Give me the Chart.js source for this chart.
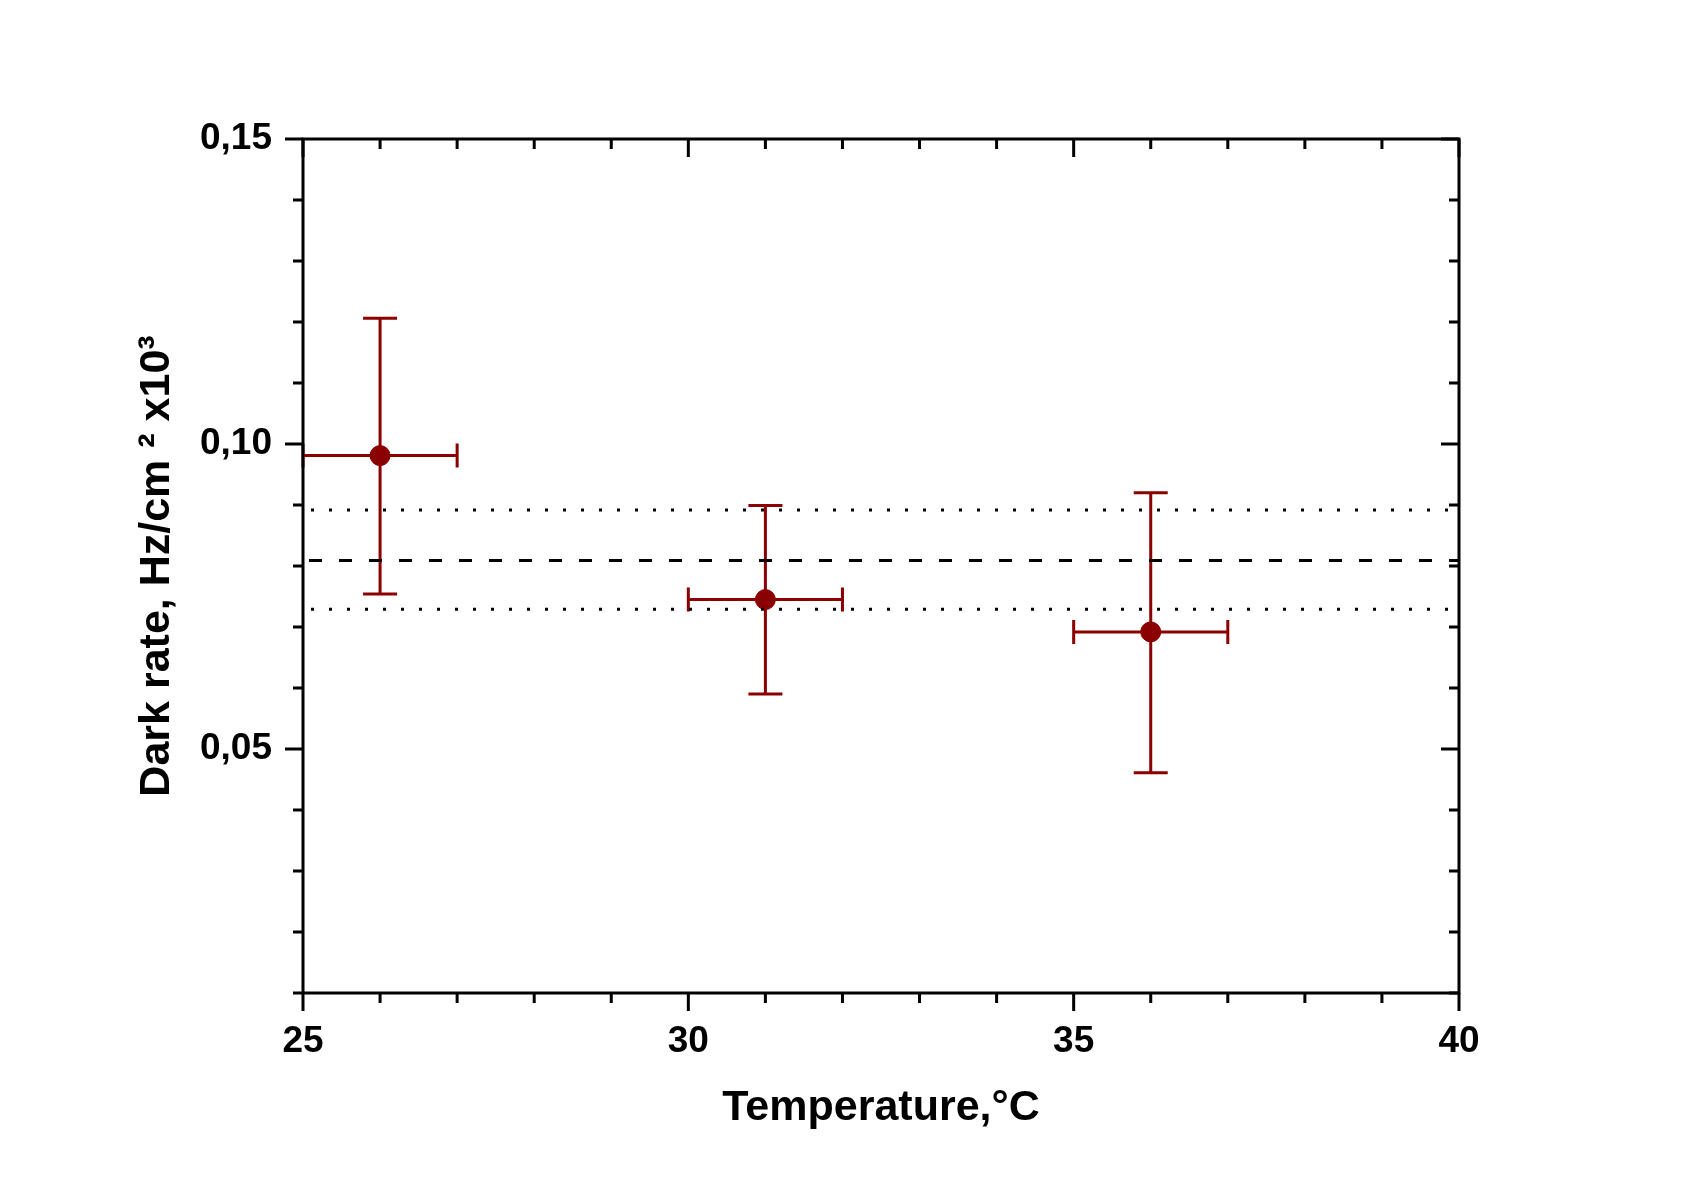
<!DOCTYPE html>
<html lang="en">
<head>
  <meta charset="UTF-8">
  <title>Dark rate vs Temperature</title>
  <script src="https://cdn.jsdelivr.net/npm/chart.js"></script>
  <style>
    body {
      margin: 0;
      background: #fff;
    }

    #chartContainer {
      width: 1696px;
      height: 1192px;
    }
  </style>
</head>
<body>

  <div id="chartContainer">
    <canvas id="darkChart" width="1696" height="1192"></canvas>
  </div>

  <script>
    // measured points
    const temps = [26, 31, 36];
    const darkRate = [0.0981, 0.0745, 0.0692];
    const tempErr = [1, 1, 1];
    const rateLow = [0.0754, 0.0590, 0.0461];
    const rateHigh = [0.1206, 0.0899, 0.0920];

    // mean level and its band
    const meanRate = 0.0809;
    const bandLow = 0.0729;
    const bandHigh = 0.0892;

    // axes
    const xTicks = [25, 30, 35, 40];
    const yTicks = [0.05, 0.10, 0.15];
    const yTickLabels = ['0,05', '0,10', '0,15'];

    const red = '#8b0000';
    const fontFamily = '"Liberation Sans", Arial, sans-serif';

    // error bars, drawn under the markers
    const errorBars = {
      id: 'errorBars',
      beforeDatasetsDraw(chart) {
        const ctx = chart.ctx;
        const xs = chart.scales.x, ys = chart.scales.y;
        ctx.save();
        ctx.strokeStyle = red;
        ctx.lineWidth = 3;
        temps.forEach((t, i) => {
          const cx = xs.getPixelForValue(t);
          const cy = ys.getPixelForValue(darkRate[i]);
          const x0 = xs.getPixelForValue(t - tempErr[i]);
          const x1 = xs.getPixelForValue(t + tempErr[i]);
          const y0 = ys.getPixelForValue(rateLow[i]);
          const y1 = ys.getPixelForValue(rateHigh[i]);
          ctx.beginPath();
          ctx.moveTo(cx, y0); ctx.lineTo(cx, y1);
          ctx.moveTo(cx - 17, y0); ctx.lineTo(cx + 17, y0);
          ctx.moveTo(cx - 17, y1); ctx.lineTo(cx + 17, y1);
          ctx.moveTo(x0, cy); ctx.lineTo(x1, cy);
          ctx.moveTo(x0, cy - 12); ctx.lineTo(x0, cy + 12);
          ctx.moveTo(x1, cy - 12); ctx.lineTo(x1, cy + 12);
          ctx.stroke();
        });
        ctx.restore();
      }
    };

    // box frame with major/minor ticks (out on left/bottom, in on top/right)
    const frameTicks = {
      id: 'frameTicks',
      afterDraw(chart) {
        const ctx = chart.ctx;
        const xs = chart.scales.x, ys = chart.scales.y;
        const {left, right, top, bottom} = chart.chartArea;
        ctx.save();
        ctx.strokeStyle = '#000';
        ctx.lineWidth = 3;
        ctx.beginPath();
        for (let v = 25; v <= 40; v += 1) {
          const px = xs.getPixelForValue(v);
          const len = v % 5 === 0 ? 18 : 10;
          ctx.moveTo(px, bottom); ctx.lineTo(px, bottom + len);
          ctx.moveTo(px, top); ctx.lineTo(px, top + len);
        }
        for (let k = 1; k <= 15; k++) {
          const py = ys.getPixelForValue(k / 100);
          const len = k % 5 === 0 ? 18 : 10;
          ctx.moveTo(left, py); ctx.lineTo(left - len, py);
          ctx.moveTo(right, py); ctx.lineTo(right - len, py);
        }
        ctx.stroke();
        ctx.lineJoin = 'miter';
        ctx.strokeRect(left, top, right - left, bottom - top);
        ctx.restore();
      }
    };

    const ctx1 = document.getElementById('darkChart').getContext('2d');
    new Chart(ctx1, {
      type: 'scatter',
      data: {
        datasets: [
          {
            type: 'line',
            data: [{x: 25, y: meanRate}, {x: 40, y: meanRate}],
            borderColor: '#000',
            borderWidth: 3,
            borderDash: [13, 17],
            borderDashOffset: -6,
            pointRadius: 0
          },
          {
            type: 'line',
            data: [{x: 25, y: bandHigh}, {x: 40, y: bandHigh}],
            borderColor: '#000',
            borderWidth: 3,
            borderDash: [3, 15],
            borderDashOffset: -8,
            pointRadius: 0
          },
          {
            type: 'line',
            data: [{x: 25, y: bandLow}, {x: 40, y: bandLow}],
            borderColor: '#000',
            borderWidth: 3,
            borderDash: [3, 15],
            borderDashOffset: -8,
            pointRadius: 0
          },
          {
            label: 'Dark rate',
            data: temps.map((t, i) => ({x: t, y: darkRate[i]})),
            backgroundColor: red,
            borderColor: red,
            borderWidth: 1,
            pointRadius: 10
          }
        ]
      },
      plugins: [errorBars, frameTicks],
      options: {
        responsive: false,
        animation: false,
        layout: {
          padding: {left: 0, right: 237, top: 139, bottom: 0}
        },
        scales: {
          x: {
            type: 'linear',
            min: 25,
            max: 40,
            afterFit(scale) { scale.height = 199; },
            afterBuildTicks(scale) { scale.ticks = xTicks.map(v => ({value: v})); },
            grid: {display: false, drawTicks: false},
            border: {display: false},
            ticks: {
              padding: 27,
              color: '#000',
              font: {family: fontFamily, size: 37, weight: 'bold'}
            },
            title: {
              display: true,
              text: 'Temperature,°C',
              color: '#000',
              padding: {top: 0, bottom: 58},
              font: {family: fontFamily, size: 43, weight: 'bold'}
            }
          },
          y: {
            type: 'linear',
            min: 0.01,
            max: 0.15,
            afterFit(scale) { scale.width = 303; },
            afterBuildTicks(scale) { scale.ticks = yTicks.map(v => ({value: v})); },
            grid: {display: false, drawTicks: false},
            border: {display: false},
            ticks: {
              padding: 31,
              color: '#000',
              font: {family: fontFamily, size: 37, weight: 'bold'},
              callback: (value) => yTickLabels[yTicks.findIndex(v => Math.abs(v - value) < 1e-6)]
            },
            title: {
              display: true,
              text: 'Dark rate, Hz/cm ² x10³',
              color: '#000',
              padding: {top: 131, bottom: 0},
              font: {family: fontFamily, size: 43, weight: 'bold'}
            }
          }
        },
        plugins: {
          legend: {display: false},
          tooltip: {enabled: false}
        }
      }
    });
  </script>

</body>
</html>
